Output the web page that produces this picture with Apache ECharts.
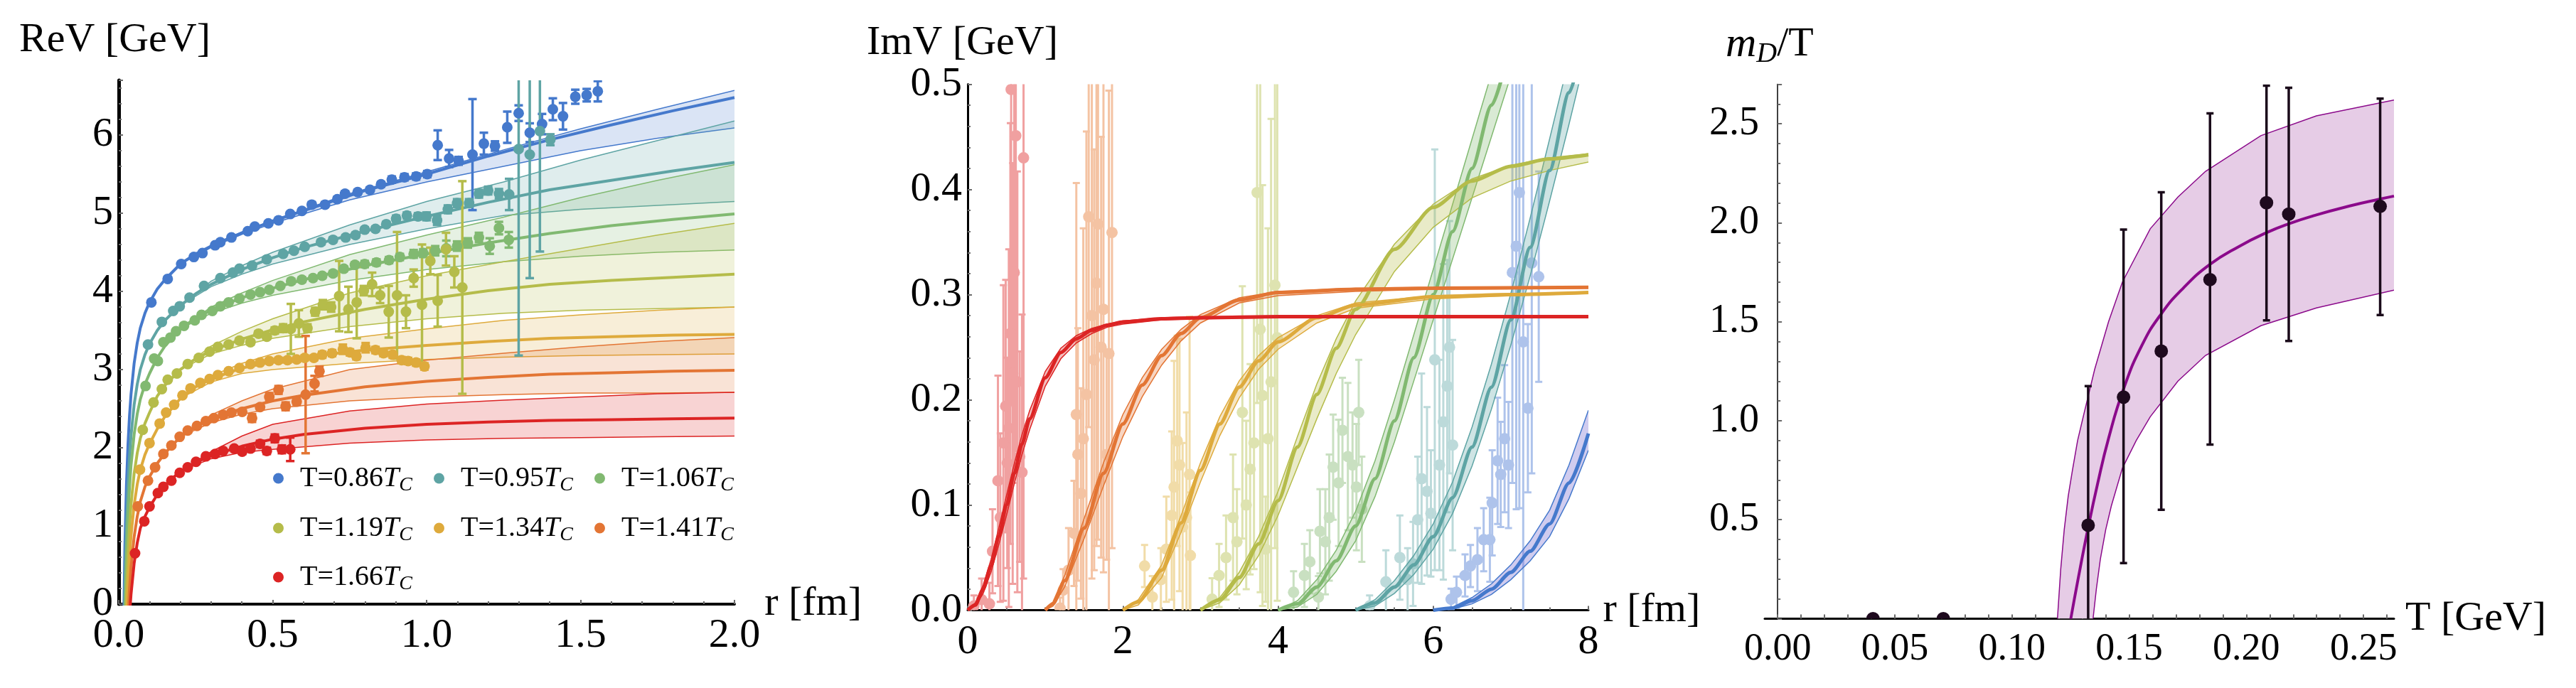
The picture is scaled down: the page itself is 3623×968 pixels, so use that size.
<!DOCTYPE html>
<html><head><meta charset="utf-8">
<script src="https://cdn.jsdelivr.net/npm/echarts@6.0.0/dist/echarts.min.js"></script>
<style>html,body{margin:0;padding:0;background:#fff}#c{width:3623px;height:968px}</style>
</head><body><div id="c"></div>
<script>
const FONT = '"Liberation Serif", "DejaVu Serif", serif';

// ================= Panel 1 : Re V =================
const reNames  = ['T=0.86','T=0.95','T=1.06','T=1.19','T=1.34','T=1.41','T=1.66'];
const reColors = ['#4579CC','#5EA4A4','#81B971','#B5BC4A','#DEAA3C','#E37534','#DC2424'];

const reCurveR = [0.015,0.02,0.025,0.03,0.035,0.04,0.05,0.06,0.07,0.085,0.1,0.125,0.15,0.2,0.25,0.3,0.4,0.5,0.6,0.8,1.0,1.2,1.4,1.6,1.8,2.0];
const re086V = [-0.56,0.74,1.52,2.04,2.41,2.69,3.08,3.34,3.53,3.72,3.86,4.03,4.15,4.35,4.48,4.58,4.75,4.90,5.03,5.29,5.50,5.73,5.94,6.13,6.31,6.48];
const re095V = [-1.09,0.21,0.99,1.51,1.88,2.16,2.55,2.81,3.00,3.19,3.33,3.50,3.63,3.82,3.97,4.09,4.28,4.43,4.56,4.77,4.96,5.14,5.30,5.42,5.54,5.65];
const re106V = [-1.47,-0.17,0.61,1.13,1.50,1.78,2.17,2.43,2.62,2.81,2.95,3.15,3.30,3.52,3.66,3.76,3.92,4.04,4.15,4.33,4.48,4.62,4.74,4.84,4.92,4.99];
const re119V = [-1.97,-0.67,0.11,0.63,1.00,1.28,1.67,1.93,2.12,2.31,2.45,2.66,2.80,3.00,3.14,3.24,3.39,3.51,3.61,3.77,3.90,4.01,4.09,4.14,4.18,4.22];
const re134V = [-2.37,-1.07,-0.29,0.23,0.60,0.88,1.27,1.53,1.72,1.91,2.05,2.24,2.40,2.63,2.78,2.88,3.02,3.10,3.16,3.25,3.31,3.36,3.40,3.42,3.44,3.45];
const re141V = [-2.78,-1.48,-0.70,-0.18,0.19,0.47,0.86,1.12,1.31,1.50,1.63,1.80,1.93,2.14,2.27,2.37,2.50,2.60,2.67,2.78,2.85,2.90,2.94,2.96,2.98,2.99];
const re166V = [-3.12,-1.82,-1.04,-0.52,-0.15,0.13,0.52,0.78,0.97,1.12,1.24,1.40,1.52,1.70,1.81,1.90,2.02,2.11,2.17,2.25,2.30,2.33,2.35,2.36,2.37,2.38];

const reBandR = [0.2,0.3,0.4,0.5,0.75,1.0,1.25,1.5,1.75,2.0];
const re086Hi = [4.35,4.59,4.76,4.91,5.25,5.53,5.81,6.08,6.33,6.57];
const re086Lo = [4.35,4.56,4.73,4.87,5.17,5.40,5.60,5.80,5.96,6.09];
const re095Hi = [3.82,4.13,4.33,4.50,4.85,5.15,5.40,5.68,5.93,6.18];
const re095Lo = [3.82,4.06,4.22,4.35,4.60,4.80,4.97,5.05,5.10,5.15];
const re106Hi = [3.52,3.80,3.98,4.14,4.47,4.72,4.95,5.20,5.42,5.62];
const re106Lo = [3.52,3.72,3.85,3.95,4.14,4.28,4.38,4.45,4.50,4.53];
const re119Hi = [3.00,3.30,3.49,3.65,3.98,4.20,4.38,4.55,4.72,4.87];
const re119Lo = [3.00,3.20,3.31,3.40,3.55,3.65,3.72,3.76,3.78,3.80];
const re134Hi = [2.63,2.92,3.08,3.20,3.40,3.52,3.63,3.70,3.76,3.80];
const re134Lo = [2.63,2.84,2.95,3.00,3.08,3.13,3.16,3.18,3.19,3.20];
const re141Hi = [2.14,2.42,2.60,2.75,3.00,3.12,3.21,3.29,3.36,3.41];
const re141Lo = [2.14,2.32,2.43,2.50,2.60,2.65,2.68,2.70,2.70,2.71];
const re166Hi = [1.70,1.95,2.15,2.30,2.47,2.56,2.61,2.65,2.69,2.71];
const re166Lo = [1.70,1.86,1.94,1.98,2.06,2.10,2.12,2.13,2.14,2.15];

// points: [r, V, error]
const re086Pts = [[0.106,3.86,0.02],[0.159,4.16,0.02],[0.203,4.35,0.02],[0.244,4.44,0.02],[0.272,4.49,0.02],[0.313,4.59,0.02],[0.33,4.63,0.02],[0.366,4.69,0.02],[0.419,4.77,0.02],[0.442,4.83,0.02],[0.486,4.87,0.02],[0.519,4.91,0.02],[0.557,4.99,0.02],[0.595,5.03,0.02],[0.627,5.11,0.03],[0.67,5.11,0.03],[0.71,5.18,0.03],[0.735,5.25,0.03],[0.776,5.27,0.03],[0.816,5.30,0.03],[0.852,5.37,0.03],[0.887,5.43,0.04],[0.928,5.46,0.04],[0.966,5.47,0.04],[1.002,5.50,0.04],[1.036,5.87,0.19],[1.073,5.70,0.11],[1.104,5.67,0.05],[1.149,5.75,0.71],[1.186,5.89,0.14],[1.222,5.86,0.06],[1.262,6.10,0.2],[1.299,6.28,0.1],[1.335,6.03,0.12],[1.375,6.14,0.13],[1.41,6.33,0.14],[1.443,6.24,0.17],[1.483,6.49,0.09],[1.52,6.51,0.08],[1.556,6.56,0.13]];
const re095Pts = [[0.095,3.32,0.02],[0.14,3.61,0.02],[0.177,3.75,0.02],[0.198,3.81,0.02],[0.23,3.92,0.02],[0.277,4.07,0.02],[0.33,4.17,0.02],[0.371,4.24,0.02],[0.392,4.29,0.02],[0.433,4.33,0.02],[0.481,4.41,0.02],[0.534,4.48,0.02],[0.569,4.52,0.02],[0.604,4.57,0.02],[0.657,4.63,0.03],[0.696,4.66,0.03],[0.737,4.69,0.03],[0.769,4.72,0.03],[0.799,4.79,0.03],[0.834,4.80,0.03],[0.869,4.86,0.03],[0.901,4.93,0.04],[0.936,4.97,0.04],[0.972,4.96,0.04],[1.0,4.96,0.05],[1.034,4.91,0.06],[1.069,5.05,0.05],[1.099,5.13,0.05],[1.138,5.13,0.05],[1.17,5.25,0.05],[1.2,5.29,0.05],[1.235,5.25,0.06],[1.268,5.24,0.2],[1.299,5.82,2.64],[1.335,5.75,1.58],[1.368,6.05,1.54],[1.402,5.94,0.07]];
const re106Pts = [[0.087,2.79,0.02],[0.115,3.14,0.02],[0.127,3.11,0.02],[0.145,3.35,0.02],[0.168,3.41,0.02],[0.186,3.49,0.02],[0.212,3.56,0.02],[0.247,3.63,0.02],[0.269,3.70,0.02],[0.304,3.75,0.02],[0.33,3.81,0.02],[0.357,3.86,0.02],[0.392,3.91,0.02],[0.428,3.96,0.02],[0.459,3.99,0.02],[0.489,4.02,0.02],[0.525,4.07,0.02],[0.56,4.13,0.03],[0.595,4.15,0.03],[0.631,4.17,0.03],[0.661,4.20,0.03],[0.696,4.23,0.03],[0.731,4.29,0.03],[0.767,4.34,0.03],[0.799,4.35,0.04],[0.837,4.37,0.04],[0.878,4.40,0.04],[0.913,4.44,0.04],[0.958,4.48,0.05],[0.989,4.49,0.05],[1.028,4.52,0.06],[1.064,4.55,0.1],[1.099,4.58,0.06],[1.134,4.62,0.06],[1.17,4.69,0.06],[1.205,4.58,0.1],[1.235,4.81,0.08],[1.267,4.66,0.1]];
const re119Pts = [[0.078,2.23,0.02],[0.113,2.58,0.02],[0.14,2.75,0.02],[0.159,2.87,0.02],[0.189,2.95,0.02],[0.224,3.07,0.02],[0.26,3.15,0.02],[0.295,3.23,0.02],[0.322,3.29,0.02],[0.357,3.32,0.02],[0.392,3.37,0.03],[0.428,3.35,0.03],[0.454,3.46,0.03],[0.481,3.42,0.03],[0.507,3.50,0.04],[0.534,3.53,0.05],[0.559,3.52,0.32],[0.585,3.59,0.17],[0.613,3.53,0.05],[0.638,3.74,0.05],[0.663,3.83,0.06],[0.69,3.80,0.06],[0.716,3.94,0.45],[0.746,3.77,0.29],[0.773,3.86,0.46],[0.796,4.01,0.06],[0.823,4.09,0.15],[0.849,3.95,0.1],[0.877,3.74,0.33],[0.904,3.95,0.81],[0.933,3.74,0.21],[0.958,4.17,0.11],[0.985,3.83,0.77],[1.012,4.39,0.17],[1.036,3.88,0.33],[1.063,4.54,0.21],[1.09,4.25,0.2],[1.116,4.05,1.36]];
const re134Pts = [[0.069,1.72,0.02],[0.1,2.06,0.02],[0.133,2.31,0.02],[0.154,2.45,0.02],[0.18,2.55,0.02],[0.207,2.67,0.02],[0.233,2.76,0.02],[0.265,2.83,0.02],[0.295,2.88,0.02],[0.322,2.93,0.02],[0.357,2.98,0.02],[0.392,3.02,0.02],[0.428,3.07,0.02],[0.459,3.09,0.02],[0.489,3.11,0.02],[0.519,3.12,0.03],[0.548,3.12,0.03],[0.578,3.13,0.03],[0.604,3.15,0.03],[0.634,3.15,0.03],[0.661,3.19,0.04],[0.693,3.21,0.04],[0.728,3.26,0.06],[0.751,3.22,0.04],[0.772,3.17,0.04],[0.802,3.28,0.06],[0.834,3.25,0.04],[0.86,3.21,0.04],[0.89,3.19,0.04],[0.919,3.12,0.04],[0.94,3.11,0.04],[0.966,3.09,0.04],[0.993,3.04,0.04]];
const re141Pts = [[0.062,1.25,0.02],[0.095,1.58,0.02],[0.118,1.75,0.02],[0.145,1.92,0.02],[0.171,2.03,0.02],[0.198,2.14,0.02],[0.224,2.22,0.02],[0.254,2.28,0.02],[0.283,2.34,0.02],[0.309,2.38,0.02],[0.339,2.42,0.02],[0.366,2.45,0.02],[0.401,2.46,0.03],[0.433,2.38,0.05],[0.459,2.52,0.03],[0.489,2.65,0.05],[0.519,2.74,0.05],[0.542,2.53,0.05],[0.578,2.59,0.04],[0.607,2.68,0.75],[0.636,2.82,0.1],[0.652,2.98,0.06]];
const re166Pts = [[0.053,0.65,0.02],[0.083,1.06,0.02],[0.1,1.25,0.02],[0.127,1.42,0.02],[0.145,1.50,0.02],[0.171,1.58,0.02],[0.198,1.68,0.02],[0.224,1.75,0.02],[0.251,1.82,0.02],[0.283,1.89,0.02],[0.313,1.92,0.02],[0.339,1.96,0.02],[0.375,1.99,0.02],[0.401,1.95,0.03],[0.428,1.99,0.03],[0.459,2.05,0.04],[0.481,1.96,0.04],[0.507,2.12,0.05],[0.53,1.98,0.05],[0.557,1.98,0.15]];

// ================= Panel 2 : Im V =================
const imPale = ['#AEC3EB','#BCDADA','#C9E0C1','#DEE3B0','#F1DCA8','#F4C3A3','#F0A0A0'];
const im086R = [6,6.25,6.5,6.75,7,7.25,7.5,7.75,8];
const im086V = [0,0.002,0.009,0.02,0.036,0.056,0.082,0.121,0.168];
const im086Hi = [0,0.003,0.012,0.025,0.043,0.066,0.095,0.138,0.19];
const im086Lo = [0,0.001,0.006,0.015,0.029,0.047,0.07,0.106,0.152];
const im095R = [5,5.25,5.5,5.75,6,6.25,6.5,6.75,7,7.25,7.5,7.75,8];
const im095V = [0,0.007,0.022,0.043,0.07,0.107,0.155,0.212,0.276,0.345,0.418,0.492,0.568];
const im095Hi = [0,0.01,0.028,0.052,0.082,0.122,0.174,0.234,0.301,0.373,0.448,0.524,0.6];
const im095Lo = [0,0.004,0.016,0.034,0.058,0.092,0.137,0.191,0.252,0.318,0.389,0.462,0.538];
const im106R = [4,4.25,4.5,4.75,5,5.25,5.5,5.75,6,6.25,6.5,6.75,7];
const im106V = [0,0.006,0.022,0.047,0.08,0.125,0.18,0.24,0.3,0.36,0.42,0.48,0.54];
const im106Hi = [0,0.009,0.029,0.057,0.094,0.142,0.2,0.262,0.324,0.386,0.448,0.51,0.572];
const im106Lo = [0,0.003,0.015,0.037,0.066,0.108,0.16,0.218,0.276,0.334,0.392,0.45,0.508];
const im119R = [3,3.25,3.5,3.75,4,4.25,4.5,4.75,5,5.5,6,6.5,7,7.5,8];
const im119V = [0,0.01,0.031,0.063,0.104,0.155,0.205,0.249,0.286,0.343,0.383,0.408,0.422,0.429,0.433];
const im119Hi = [0,0.012,0.036,0.07,0.113,0.165,0.215,0.258,0.294,0.348,0.386,0.41,0.423,0.43,0.434];
const im119Lo = [0,0.007,0.024,0.052,0.09,0.136,0.182,0.225,0.262,0.322,0.364,0.392,0.408,0.418,0.426];
const im134R = [2,2.2,2.5,2.75,3,3.25,3.5,3.75,4,4.5,5,6,7,8];
const im134V = [0,0.008,0.038,0.083,0.133,0.177,0.212,0.237,0.255,0.278,0.29,0.298,0.3,0.302];
const im134Hi = [0,0.01,0.043,0.09,0.14,0.184,0.218,0.242,0.259,0.28,0.292,0.299,0.301,0.302];
const im134Lo = [0,0.005,0.031,0.074,0.122,0.166,0.202,0.229,0.248,0.273,0.287,0.296,0.299,0.301];
const im141R = [1,1.1,1.25,1.5,1.75,2.0,2.25,2.5,2.75,3,3.5,4,5,6,8];
const im141V = [0,0.006,0.028,0.078,0.13,0.177,0.214,0.242,0.263,0.278,0.295,0.302,0.305,0.306,0.307];
const im141Hi = [0,0.008,0.033,0.087,0.14,0.186,0.221,0.248,0.267,0.281,0.297,0.303,0.306,0.307,0.307];
const im141Lo = [0,0.004,0.022,0.068,0.118,0.165,0.203,0.233,0.256,0.273,0.292,0.299,0.303,0.305,0.306];
const im166R = [0,0.1,0.2,0.3,0.4,0.5,0.6,0.7,0.8,1.0,1.2,1.4,1.6,1.8,2.0,2.5,3,4,8];
const im166V = [0,0.005,0.02,0.042,0.07,0.1,0.13,0.158,0.182,0.221,0.245,0.258,0.266,0.271,0.274,0.277,0.278,0.279,0.279];
const im166Hi = [0,0.007,0.024,0.048,0.078,0.109,0.139,0.167,0.19,0.227,0.249,0.261,0.268,0.272,0.275,0.278,0.279,0.279,0.279];
const im166Lo = [0,0.004,0.016,0.036,0.062,0.09,0.12,0.148,0.172,0.213,0.239,0.254,0.263,0.269,0.272,0.276,0.277,0.278,0.278];

const im086Pts = [[6.23,0.0104,0.01],[6.3,0.017,0.015],[6.41,0.033,0.02],[6.48,0.042,0.02],[6.57,0.048,0.03],[6.65,0.067,0.03],[6.73,0.067,0.04],[6.76,0.102,0.05],[6.83,0.142,0.06],[6.87,0.129,0.05],[6.92,0.163,0.07],[6.97,0.138,0.06],[7.02,0.321,0.2],[7.07,0.346,0.25],[7.11,0.397,0.3],[7.16,0.255,0.3],[7.22,0.192,0.08],[7.27,0.33,0.2],[7.36,0.317,0.1]];
const im095Pts = [[5.18,0.004,0.01],[5.39,0.027,0.03],[5.57,0.05,0.04],[5.67,0.029,0.03],[5.74,0.044,0.04],[5.8,0.086,0.06],[5.85,0.125,0.1],[5.92,0.113,0.08],[5.97,0.092,0.06],[6.02,0.238,0.2],[6.08,0.138,0.1],[6.13,0.179,0.15],[6.18,0.213,0.12],[6.21,0.25,0.12],[6.25,0.157,0.1]];
const im106Pts = [[4.2,0.017,0.02],[4.34,0.033,0.03],[4.41,0.046,0.03],[4.52,0.0125,0.02],[4.54,0.075,0.04],[4.61,0.065,0.05],[4.66,0.088,0.06],[4.71,0.136,0.05],[4.78,0.121,0.06],[4.83,0.171,0.05],[4.9,0.146,0.07],[4.96,0.138,0.05],[5.01,0.117,0.06],[5.04,0.188,0.05],[5.08,0.096,0.05]];
const im119Pts = [[3.15,0.0104,0.02],[3.24,0.033,0.03],[3.33,0.05,0.04],[3.42,0.088,0.06],[3.47,0.065,0.05],[3.54,0.188,0.12],[3.59,0.1,0.08],[3.64,0.134,0.1],[3.69,0.159,0.12],[3.73,0.397,0.2],[3.77,0.267,0.25],[3.8,0.204,0.2],[3.84,0.058,0.05],[3.87,0.163,0.2],[3.91,0.217,0.25],[3.96,0.309,0.25],[3.99,0.259,0.25]];
const im134Pts = [[2.28,0.042,0.02],[2.38,0.0125,0.02],[2.49,0.029,0.03],[2.56,0.058,0.05],[2.63,0.09,0.08],[2.66,0.117,0.12],[2.7,0.161,0.1],[2.73,0.138,0.12],[2.77,0.079,0.08],[2.82,0.088,0.1],[2.86,0.129,0.15],[2.87,0.052,0.06]];
const im141Pts = [[1.19,0.002,0.01],[1.23,0.019,0.02],[1.3,0.038,0.04],[1.37,0.073,0.05],[1.4,0.186,0.22],[1.42,0.148,0.12],[1.46,0.111,0.1],[1.49,0.163,0.2],[1.53,0.205,0.25],[1.56,0.374,0.2],[1.6,0.28,0.25],[1.63,0.238,0.2],[1.66,0.311,0.25],[1.68,0.367,0.3],[1.72,0.25,0.2],[1.75,0.286,0.25],[1.79,0.148,0.1],[1.82,0.244,0.25],[1.86,0.359,0.3]];
const im166Pts = [[0.08,0.004,0.01],[0.18,0.01,0.02],[0.28,0.006,0.02],[0.32,0.056,0.04],[0.39,0.123,0.1],[0.42,0.088,0.08],[0.46,0.159,0.15],[0.49,0.194,0.12],[0.51,0.14,0.1],[0.53,0.173,0.17],[0.55,0.263,0.2],[0.56,0.495,0.3],[0.58,0.225,0.2],[0.6,0.321,0.2],[0.62,0.451,0.3],[0.64,0.217,0.2],[0.67,0.146,0.1],[0.7,0.131,0.15],[0.72,0.43,0.4]];

// ================= Panel 3 : m_D / T =================
const mdT  = [0.0407,0.0707,0.1325,0.1476,0.1637,0.1845,0.2086,0.2181,0.2571];
const mdV  = [0.0,0.0,0.472,1.119,1.352,1.713,2.101,2.044,2.083];
const mdLo = [-0.01,-0.01,-0.2,0.281,0.55,0.88,1.507,1.403,1.534];
const mdHi = [0.01,0.01,1.175,1.966,2.154,2.553,2.693,2.682,2.627];
const mdFitT = [0.1251,0.1282,0.1325,0.1365,0.1412,0.1476,0.1554,0.1637,0.1731,0.1845,0.1968,0.2086,0.2181,0.2299,0.2441,0.2571,0.263];
const mdFitV = [0,0.2,0.46,0.68,0.91,1.16,1.38,1.54,1.67,1.79,1.88,1.95,1.995,2.04,2.085,2.12,2.135];
const mdUpT = [0.1194,0.1208,0.1223,0.124,0.1258,0.128,0.1306,0.1353,0.1412,0.1471,0.159,0.1708,0.1826,0.2062,0.2299,0.263];
const mdUpV = [0,0.25,0.45,0.62,0.75,0.9,1.03,1.26,1.5,1.7,1.97,2.13,2.26,2.44,2.54,2.62];
const mdLoT = [0.1346,0.136,0.1377,0.14,0.1424,0.1471,0.153,0.159,0.1708,0.1826,0.2062,0.2299,0.263];
const mdLoV = [0,0.15,0.3,0.45,0.57,0.76,0.9,1.02,1.2,1.33,1.48,1.57,1.66];
const mdTicksX = [0,0.05,0.10,0.15,0.20,0.25];
const mdMinorX = [0,0.01,0.02,0.03,0.04,0.05,0.06,0.07,0.08,0.09,0.10,0.11,0.12,0.13,0.14,0.15,0.16,0.17,0.18,0.19,0.20,0.21,0.22,0.23,0.24,0.25,0.26];

// ---------- helpers ----------
function rgba(hex, a) { const n = parseInt(hex.slice(1), 16); return `rgba(${n >> 16},${(n >> 8) & 255},${n & 255},${a})`; }
function pairs(xs, ys) { return xs.map((x, i) => [x, ys[i]]); }

function bandSeries(gi, upX, upY, loX, loY, fill, stroke, lw, z) {
  return {
    type: 'custom', xAxisIndex: gi, yAxisIndex: gi, clip: true, silent: true, z: z,
    data: [[upX[0], upY[0]]], encode: { x: 0, y: 1 },
    renderItem: function (params, api) {
      const up = upX.map((x, i) => api.coord([x, upY[i]]));
      const dn = loX.map((x, i) => api.coord([x, loY[i]]));
      return { type: 'group', children: [
        { type: 'polygon', shape: { points: up.concat(dn.slice().reverse()) }, style: { fill: fill, stroke: null } },
        { type: 'polyline', shape: { points: up }, style: { stroke: stroke, lineWidth: lw, fill: null } },
        { type: 'polyline', shape: { points: dn }, style: { stroke: stroke, lineWidth: lw, fill: null } }
      ] };
    }
  };
}
function errSeries(gi, data, color, lw, cap, z) {
  return {
    type: 'custom', xAxisIndex: gi, yAxisIndex: gi, clip: true, silent: true, z: z,
    data: data, encode: { x: 0, y: [1, 2] },
    renderItem: function (params, api) {
      const x = api.value(0);
      const lo = api.coord([x, api.value(1)]), hi = api.coord([x, api.value(2)]);
      const st = { stroke: color, lineWidth: lw };
      return { type: 'group', children: [
        { type: 'line', shape: { x1: lo[0], y1: lo[1], x2: hi[0], y2: hi[1] }, style: st },
        { type: 'line', shape: { x1: lo[0] - cap, y1: lo[1], x2: lo[0] + cap, y2: lo[1] }, style: st },
        { type: 'line', shape: { x1: hi[0] - cap, y1: hi[1], x2: hi[0] + cap, y2: hi[1] }, style: st }
      ] };
    }
  };
}
function dotSeries(gi, data, color, r, z) {
  return {
    type: 'custom', xAxisIndex: gi, yAxisIndex: gi, clip: true, silent: true, z: z,
    data: data, encode: { x: 0, y: 1 },
    renderItem: function (params, api) {
      const p = api.coord([api.value(0), api.value(1)]);
      return { type: 'circle', shape: { cx: p[0], cy: p[1], r: r }, style: { fill: color } };
    }
  };
}

const reCurves = [re086V, re095V, re106V, re119V, re134V, re141V, re166V];
const reHis = [re086Hi, re095Hi, re106Hi, re119Hi, re134Hi, re141Hi, re166Hi];
const reLos = [re086Lo, re095Lo, re106Lo, re119Lo, re134Lo, re141Lo, re166Lo];
const rePts = [re086Pts, re095Pts, re106Pts, re119Pts, re134Pts, re141Pts, re166Pts];
const imRs = [im086R, im095R, im106R, im119R, im134R, im141R, im166R];
const imVs = [im086V, im095V, im106V, im119V, im134V, im141V, im166V];
const imHis = [im086Hi, im095Hi, im106Hi, im119Hi, im134Hi, im141Hi, im166Hi];
const imLos = [im086Lo, im095Lo, im106Lo, im119Lo, im134Lo, im141Lo, im166Lo];
const imPts = [im086Pts, im095Pts, im106Pts, im119Pts, im134Pts, im141Pts, im166Pts];

const series = [];
// Panel 1
reNames.forEach((nm, i) => {
  const c = reColors[i];
  series.push(bandSeries(0, reBandR, reHis[i], reBandR, reLos[i], rgba(c, 0.2), c, 1.5, 1));
  series.push({ type: 'line', xAxisIndex: 0, yAxisIndex: 0, data: pairs(reCurveR, reCurves[i]), showSymbol: false, silent: true,
    lineStyle: { color: c, width: 4 }, z: 2, clip: true });
  series.push(errSeries(0, rePts[i].map(p => [p[0], p[1] - p[2], p[1] + p[2]]), c, 3.5, 6, 3));
  series.push({ name: nm, type: 'scatter', xAxisIndex: 0, yAxisIndex: 0, data: rePts[i].map(p => [p[0], p[1]]),
    symbolSize: 15, itemStyle: { color: c, opacity: 1 }, z: 4, silent: true });
});
// Panel 2
reNames.forEach((nm, i) => {
  const c = reColors[i], pc = imPale[i];
  series.push(errSeries(1, imPts[i].map(p => [p[0], p[1] - p[2], p[1] + p[2]]), pc, 3, 5, 1));
  series.push(dotSeries(1, imPts[i].map(p => [p[0], p[1]]), pc, 8, 1));
  const fill = i === 0 ? 'rgba(120,110,210,0.35)' : rgba(c, 0.3);
  series.push(bandSeries(1, imRs[i], imHis[i], imRs[i], imLos[i], fill, c, 1.5, 2));
  series.push({ type: 'line', xAxisIndex: 1, yAxisIndex: 1, data: pairs(imRs[i], imVs[i]), showSymbol: false, silent: true,
    smooth: 0.25, smoothMonotone: 'x', lineStyle: { color: c, width: 5 }, z: 3, clip: true });
});
// Panel 3
series.push(bandSeries(2, mdUpT, mdUpV, mdLoT, mdLoV, '#E6CCE6', '#8B0A8B', 1.5, 1));
series.push({ type: 'line', xAxisIndex: 2, yAxisIndex: 2, data: pairs(mdFitT, mdFitV), showSymbol: false, silent: true,
  smooth: 0.5, lineStyle: { color: '#8B0A8B', width: 4 }, z: 2, clip: true });
series.push(errSeries(2, mdT.map((t, i) => [t, mdLo[i], mdHi[i]]), '#1A0A1A', 3.5, 5, 3));
series.push(dotSeries(2, pairs(mdT, mdV), '#1E0A1E', 9.5, 4));

// ---------- axes ----------
const lbl = (o) => Object.assign({ fontFamily: FONT, fontSize: 58, color: '#000', fontWeight: 'normal' }, o);
const tickGray = '#6a6a6a';
function xAx(gi, o) {
  return Object.assign({
    gridIndex: gi, type: 'value', splitLine: { show: false },
    axisLine: { show: true, onZero: true, lineStyle: { color: '#000', width: o.lw } },
    axisTick: { show: true, inside: true, length: 6, lineStyle: { color: tickGray, width: 2 } },
    minorTick: { show: true, splitNumber: o.minor, length: 4, lineStyle: { color: tickGray, width: 2 } },
    nameLocation: 'end', nameGap: 18, nameTextStyle: lbl({}),
  }, o.ext);
}

const option = {
  animation: false,
  backgroundColor: '#fff',
  title: [
    { text: 'ReV [GeV]', left: 27, top: 28, padding: 0, textStyle: lbl({}) },
    { text: 'ImV [GeV]', left: 1219, top: 32, padding: 0, textStyle: lbl({}) },
    { text: '{m|m}{d|D}{t|/T}', left: 2427, top: 30, padding: 0, textStyle: { fontWeight: 'normal', rich: {
        m: { fontFamily: FONT, fontSize: 60, fontStyle: 'italic', fontWeight: 'normal', color: '#000' },
        d: { fontFamily: FONT, fontSize: 40, fontStyle: 'italic', fontWeight: 'normal', color: '#000', padding: [26, 0, 0, 0] },
        t: { fontFamily: FONT, fontSize: 58, fontWeight: 'normal', color: '#000' } } } }
  ],
  legend: reNames.map((nm, i) => ({
    data: [{ name: nm, icon: 'circle' }], selectedMode: false, padding: 0,
    left: 384 + (i % 3) * 226, top: [677, 747, 816][Math.floor(i / 3)] - 24,
    itemWidth: 15, itemHeight: 15,
    formatter: (n) => `{g|}{n|${n}}{i|T}{s|C}`,
    textStyle: { rich: {
      g: { width: 18 },
      n: { fontFamily: FONT, fontSize: 40, color: '#000' },
      i: { fontFamily: FONT, fontSize: 40, fontStyle: 'italic', color: '#000' },
      s: { fontFamily: FONT, fontSize: 28, fontStyle: 'italic', color: '#000', padding: [20, 0, 0, 0] } } }
  })),
  grid: [
    { left: 167, top: 113, width: 866, height: 737 },
    { left: 1361, top: 118.5, width: 873, height: 740 },
    { left: 2482, top: 118.5, width: 885, height: 752 }
  ],
  xAxis: [
    xAx(0, { lw: 4, minor: 5, ext: { min: 0, max: 2, interval: 0.5, name: 'r [fm]',
      axisLabel: lbl({ margin: 16, formatter: v => v.toFixed(1) }) } }),
    xAx(1, { lw: 3, minor: 4, ext: { min: 0, max: 8, interval: 2, name: 'r [fm]',
      axisLabel: lbl({ margin: 16, formatter: v => String(Math.round(v)) }) } }),
    xAx(2, { lw: 3, minor: 1, ext: { min: -0.0055, max: 0.263, name: 'T [GeV]', nameGap: 16,
      minorTick: { show: false },
      axisTick: { show: true, inside: true, length: 6, customValues: mdMinorX, lineStyle: { color: tickGray, width: 2 } },
      axisLabel: lbl({ margin: 16, fontSize: 54, customValues: mdTicksX, formatter: v => v.toFixed(2) }) } })
  ],
  yAxis: [
    { gridIndex: 0, type: 'value', min: 0, max: 6.7, interval: 1, splitLine: { show: false },
      axisLine: { show: true, onZero: true, lineStyle: { color: '#000', width: 5 } },
      axisTick: { show: true, inside: true, length: 6, lineStyle: { color: tickGray, width: 2 } },
      minorTick: { show: true, splitNumber: 5, length: 4, lineStyle: { color: tickGray, width: 2 } },
      axisLabel: lbl({ margin: 8, showMaxLabel: false, formatter: v => String(Math.round(v)) }) },
    { gridIndex: 1, type: 'value', min: 0, max: 0.5, interval: 0.1, splitLine: { show: false },
      axisLine: { show: true, onZero: true, lineStyle: { color: '#000', width: 3 } },
      axisTick: { show: true, inside: true, length: 6, lineStyle: { color: tickGray, width: 2 } },
      minorTick: { show: true, splitNumber: 5, length: 4, lineStyle: { color: tickGray, width: 2 } },
      axisLabel: lbl({ margin: 8, formatter: v => v.toFixed(1) }) },
    { gridIndex: 2, type: 'value', min: 0, max: 2.7, interval: 0.5, splitLine: { show: false },
      axisLine: { show: true, onZero: true, lineStyle: { color: '#000', width: 1.5 } },
      axisTick: { show: true, inside: true, length: 6, lineStyle: { color: tickGray, width: 2 } },
      minorTick: { show: true, splitNumber: 5, length: 4, lineStyle: { color: tickGray, width: 2 } },
      axisLabel: lbl({ margin: 8, fontSize: 56, showMinLabel: false, showMaxLabel: false, formatter: v => v.toFixed(1) }) }
  ],
  series: series
};

const chart = echarts.init(document.getElementById('c'), null, { renderer: 'canvas', width: 3623, height: 968 });
chart.setOption(option);
</script>
</body></html>
